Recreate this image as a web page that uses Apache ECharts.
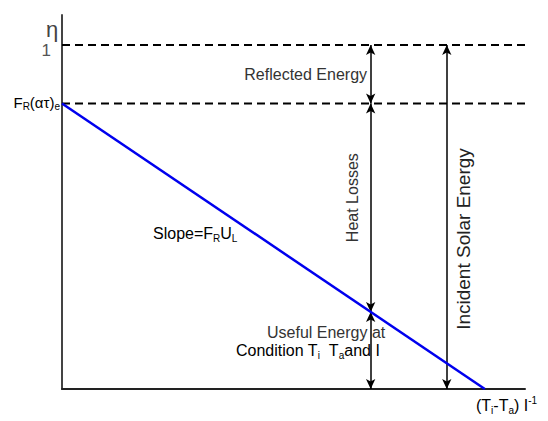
<!DOCTYPE html>
<html>
<head>
<meta charset="utf-8">
<script src="https://cdn.jsdelivr.net/npm/echarts@6/dist/echarts.min.js"></script>
<style>html,body{margin:0;padding:0;background:#fff}#c{width:548px;height:421px}</style>
</head>
<body>
<div id="c"></div>
<script>
// ---- data ----
const etaLevels = [1, 0.83];              // η = 1 and η = F_R(ατ)e
const etaLevelLabels = ['1', 'FR(ατ)e'];
const lineIntercepts = [0.83, 1.0];       // y-intercept, x-intercept of efficiency line
const arrowX = [0.73, 0.91];              // heat/reflected arrows, incident arrow
const axisMax = [1.095, 1.087];           // x max, y max

const F = 'Liberation Sans, Arial, sans-serif';
const chart = echarts.init(document.getElementById('c'), null, {renderer: 'svg'});

const yInt = lineIntercepts[0], xInt = lineIntercepts[1];
const lineAt = x => yInt * (1 - x / xInt);
const yCross = lineAt(arrowX[0]);

const arrowStyle = {color: '#000', width: 1.5, type: 'solid'};
function arrow(x, y1, y2) {
  return [{coord: [x, y1]}, {coord: [x, y2]}];
}

chart.setOption({
  animation: false,
  grid: {left: 62, right: 23, top: 15, bottom: 32},
  xAxis: {type: 'value', min: 0, max: axisMax[0],
    axisLine: {lineStyle: {color: '#222', width: 2}},
    axisTick: {show: false}, axisLabel: {show: false}, splitLine: {show: false}},
  yAxis: {type: 'value', min: 0, max: axisMax[1],
    axisLine: {show: true, lineStyle: {color: '#444', width: 2}},
    axisTick: {show: false}, axisLabel: {show: false}, splitLine: {show: false}},
  series: [
    {type: 'line', data: [[0, etaLevels[0]], [axisMax[0], etaLevels[0]]], symbol: 'none', silent: true,
      lineStyle: {color: '#000', width: 2, type: [8, 5]}},
    {type: 'line', data: [[0, etaLevels[1]], [axisMax[0], etaLevels[1]]], symbol: 'none', silent: true,
      lineStyle: {color: '#000', width: 2, type: [8, 5]}},
    {type: 'line', data: [[0, yInt], [xInt, 0]], symbol: 'none', silent: true,
      lineStyle: {color: '#0000ee', width: 2.5}, z: 5,
      markLine: {
        silent: true, symbol: ['arrow', 'arrow'], symbolSize: [7, 10],
        lineStyle: arrowStyle, label: {show: false},
        data: [
          arrow(arrowX[0], etaLevels[0], etaLevels[1]),
          arrow(arrowX[0], etaLevels[1], yCross),
          arrow(arrowX[0], yCross, 0),
          arrow(arrowX[1], etaLevels[0], 0)
        ]
      }}
  ]
});

const px = p => chart.convertToPixel({gridIndex: 0}, p);
const p1 = px([0, etaLevels[0]]);
const p2 = px([0, etaLevels[1]]);
const origin = px([0, 0]);
const ax = px([arrowX[0], etaLevels[0]]);
const ix = px([arrowX[1], etaLevels[0]]);
const cross = px([arrowX[0], yCross]);

const txt = '#333';
const subStyle = {fontSize: 10, fontFamily: F, color: txt, lineHeight: 9, verticalAlign: 'bottom'};
const nStyle = {fontSize: 16, fontFamily: F, color: txt, lineHeight: 20};

chart.setOption({
  graphic: [
    {type: 'text', x: origin[0] - 10, y: origin[1] - 360, style: {text: 'η', font: '22px ' + F, fill: '#444', align: 'center', verticalAlign: 'middle'}},
    {type: 'text', x: p1[0] - 11, y: p1[1] + 6, style: {text: etaLevelLabels[0], font: '17px ' + F, fill: '#555', align: 'right', verticalAlign: 'middle'}},
    {type: 'text', x: p2[0] - 2, y: p2[1] - 1, style: {
      text: '{n|F}{s|R}{n|(ατ)}{s|e}', align: 'right', verticalAlign: 'middle',
      rich: {n: {fontSize: 15, fontFamily: F, color: '#444', lineHeight: 18}, s: subStyle}}},
    {type: 'text', x: ax[0] - 65, y: (p1[1] + p2[1]) / 2, style: {text: 'Reflected Energy', font: '16px ' + F, fill: txt, align: 'center', verticalAlign: 'middle'}},
    {type: 'text', x: ax[0] - 18, y: (p2[1] + cross[1]) / 2 - 10, rotation: Math.PI / 2, style: {text: 'Heat Losses', font: '16px ' + F, fill: txt, align: 'center', verticalAlign: 'middle'}},
    {type: 'text', x: ix[0] + 17, y: 239, rotation: Math.PI / 2, style: {text: 'Incident Solar Energy', font: '19px ' + F, fill: '#222', align: 'center', verticalAlign: 'middle'}},
    {type: 'text', x: 153, y: 233, style: {
      text: '{n|Slope=F}{s|R}{n|U}{s|L}', align: 'left', verticalAlign: 'middle',
      rich: {n: nStyle, s: subStyle}}},
    {type: 'text', x: 267, y: cross[1] + 21, style: {text: 'Useful Energy at', font: '16px ' + F, fill: txt, align: 'left', verticalAlign: 'middle'}},
    {type: 'text', x: 236, y: cross[1] + 39, style: {
      text: '{n|Condition T}{s|i}{n|  T}{s|a}{n|and I}', align: 'left', verticalAlign: 'middle',
      rich: {n: nStyle, s: subStyle}}},
    {type: 'text', x: 476, y: origin[1] + 16, style: {
      text: '{n|(T}{s|i}{n|-T}{s|a}{n|) I}{t|-1}', align: 'left', verticalAlign: 'middle',
      rich: {n: nStyle, s: subStyle, t: {fontSize: 10, fontFamily: F, color: txt, lineHeight: 9, verticalAlign: 'top'}}}}
  ]
});
</script>
</body>
</html>
